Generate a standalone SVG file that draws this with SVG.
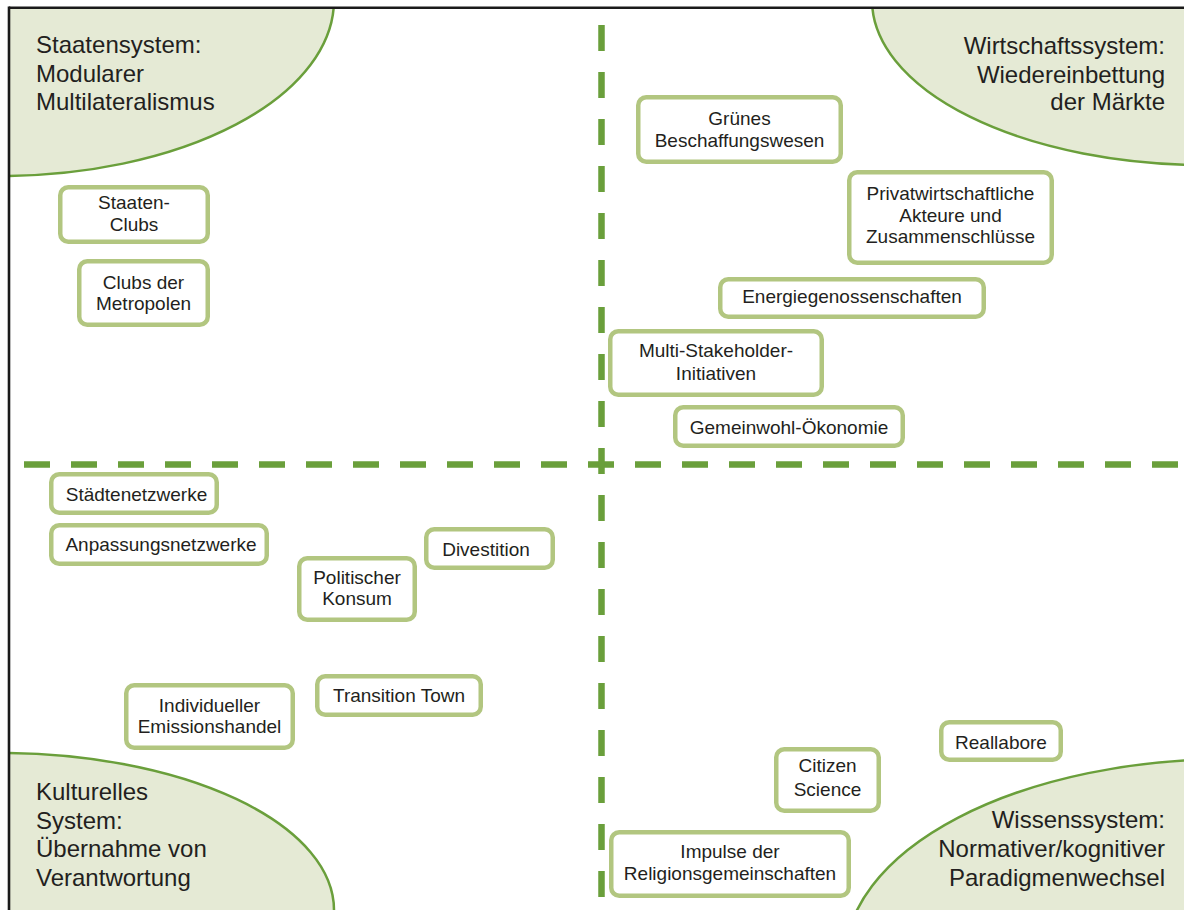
<svg xmlns="http://www.w3.org/2000/svg" width="1184" height="910" viewBox="0 0 1184 910">
<style>
.bg{fill:#ffffff}
.sys{fill:#e5ead5;stroke:#6a9f3b;stroke-width:2.5}
.frame{stroke:#1a1a1a;stroke-width:2.6;fill:none}
.dash{stroke:#6a9f3b;stroke-width:6.5;stroke-dasharray:26 21;fill:none}
.box{fill:#ffffff;stroke:#b2c680;stroke-width:4.5}
.t{font-family:"Liberation Sans",Arial,Helvetica,sans-serif;font-size:19px;fill:#231f20;text-anchor:middle}
.big{font-family:"Liberation Sans",Arial,Helvetica,sans-serif;font-size:24px;fill:#231f20}
.r{text-anchor:end}
</style>
<defs>
<clipPath id="area"><rect x="9" y="8" width="1180" height="910"/></clipPath>
</defs>
<rect class="bg" x="0" y="0" width="1184" height="910"/>
<g id="systems" clip-path="url(#area)">
<g id="sys-staaten"><ellipse class="sys" cx="0" cy="0" rx="334" ry="176"/></g>
<g id="sys-wirtschaft"><ellipse class="sys" cx="1206" cy="0" rx="334" ry="165"/></g>
<g id="sys-kultur"><ellipse class="sys" cx="0" cy="910" rx="334" ry="157"/></g>
<g id="sys-wissen"><ellipse class="sys" cx="1230" cy="960" rx="385" ry="201"/></g>
</g>
<g id="frame">
<line class="frame" x1="9" y1="7.7" x2="1184" y2="7.7"/>
<line class="frame" x1="9" y1="6.4" x2="9" y2="910"/>
</g>
<g id="connectors">
<line class="dash" x1="24" y1="464.5" x2="1184" y2="464.5"/>
<line class="dash" x1="601.5" y1="25" x2="601.5" y2="897"/>
</g>
<g id="label-staaten">
<text class="big" x="36"><tspan x="36" y="53">Staatensystem:</tspan><tspan x="36" y="82">Modularer</tspan><tspan x="36" y="110">Multilateralismus</tspan></text>
</g>
<g id="label-wirtschaft">
<text class="big r" x="1165"><tspan x="1165" y="54">Wirtschaftssystem:</tspan><tspan x="1165" y="83">Wiedereinbettung</tspan><tspan x="1165" y="110">der Märkte</tspan></text>
</g>
<g id="label-kultur">
<text class="big" x="36"><tspan x="36" y="800">Kulturelles</tspan><tspan x="36" y="829">System:</tspan><tspan x="36" y="857">Übernahme von</tspan><tspan x="36" y="886">Verantwortung</tspan></text>
</g>
<g id="label-wissen">
<text class="big r" x="1165"><tspan x="1165" y="828">Wissenssystem:</tspan><tspan x="1165" y="857">Normativer/kognitiver</tspan><tspan x="1165" y="886">Paradigmenwechsel</tspan></text>
</g>
<g id="n-staatenclubs">
<rect class="box" x="60.25" y="187.25" width="147.5" height="54.5" rx="8"/>
<text class="t"><tspan x="134" y="209">Staaten-</tspan><tspan x="134" y="231">Clubs</tspan></text>
</g>
<g id="n-metropolen">
<rect class="box" x="79.25" y="261.25" width="128.5" height="63.5" rx="8"/>
<text class="t"><tspan x="143.5" y="289">Clubs der</tspan><tspan x="143.5" y="310">Metropolen</tspan></text>
</g>
<g id="n-gruenes">
<rect class="box" x="638.25" y="97.25" width="202.5" height="64.5" rx="8"/>
<text class="t"><tspan x="739.5" y="125">Grünes</tspan><tspan x="739.5" y="147">Beschaffungswesen</tspan></text>
</g>
<g id="n-privat">
<rect class="box" x="849.25" y="172.25" width="202.5" height="90.5" rx="8"/>
<text class="t"><tspan x="950.5" y="200">Privatwirtschaftliche</tspan><tspan x="950.5" y="221.5">Akteure und</tspan><tspan x="950.5" y="243">Zusammenschlüsse</tspan></text>
</g>
<g id="n-energie">
<rect class="box" x="720.25" y="279.25" width="263.5" height="37.5" rx="8"/>
<text class="t" x="852" y="303">Energiegenossenschaften</text>
</g>
<g id="n-multi">
<rect class="box" x="610.25" y="331.25" width="211.5" height="63.5" rx="8"/>
<text class="t"><tspan x="716" y="357">Multi-Stakeholder-</tspan><tspan x="716" y="380">Initiativen</tspan></text>
</g>
<g id="n-gemeinwohl">
<rect class="box" x="675.25" y="407.25" width="227.5" height="38.5" rx="8"/>
<text class="t" x="789" y="434">Gemeinwohl-Ökonomie</text>
</g>
<g id="n-staedte">
<rect class="box" x="51.25" y="474.25" width="165.5" height="38.5" rx="8"/>
<text class="t" x="136.5" y="501">Städtenetzwerke</text>
</g>
<g id="n-anpassung">
<rect class="box" x="51.25" y="525.25" width="215.5" height="38.5" rx="8"/>
<text class="t" x="161" y="551">Anpassungsnetzwerke</text>
</g>
<g id="n-divestition">
<rect class="box" x="426.25" y="529.25" width="126.5" height="38.5" rx="8"/>
<text class="t" x="486" y="556">Divestition</text>
</g>
<g id="n-politisch">
<rect class="box" x="299.25" y="558.25" width="115.5" height="61.5" rx="8"/>
<text class="t"><tspan x="357" y="584">Politischer</tspan><tspan x="357" y="605">Konsum</tspan></text>
</g>
<g id="n-individuell">
<rect class="box" x="126.25" y="685.25" width="166.5" height="62.5" rx="8"/>
<text class="t"><tspan x="209.5" y="712">Individueller</tspan><tspan x="209.5" y="733">Emissionshandel</tspan></text>
</g>
<g id="n-transition">
<rect class="box" x="317.25" y="676.25" width="163.5" height="38.5" rx="8"/>
<text class="t" x="399" y="702">Transition Town</text>
</g>
<g id="n-reallabore">
<rect class="box" x="941.25" y="722.25" width="119.5" height="37.5" rx="8"/>
<text class="t" x="1001" y="749">Reallabore</text>
</g>
<g id="n-citizen">
<rect class="box" x="776.25" y="749.25" width="102.5" height="61.5" rx="8"/>
<text class="t"><tspan x="827.5" y="772">Citizen</tspan><tspan x="827.5" y="796">Science</tspan></text>
</g>
<g id="n-impulse">
<rect class="box" x="611.25" y="832.25" width="237.5" height="63.5" rx="8"/>
<text class="t"><tspan x="730" y="858">Impulse der</tspan><tspan x="730" y="880">Religionsgemeinschaften</tspan></text>
</g>
</svg>
